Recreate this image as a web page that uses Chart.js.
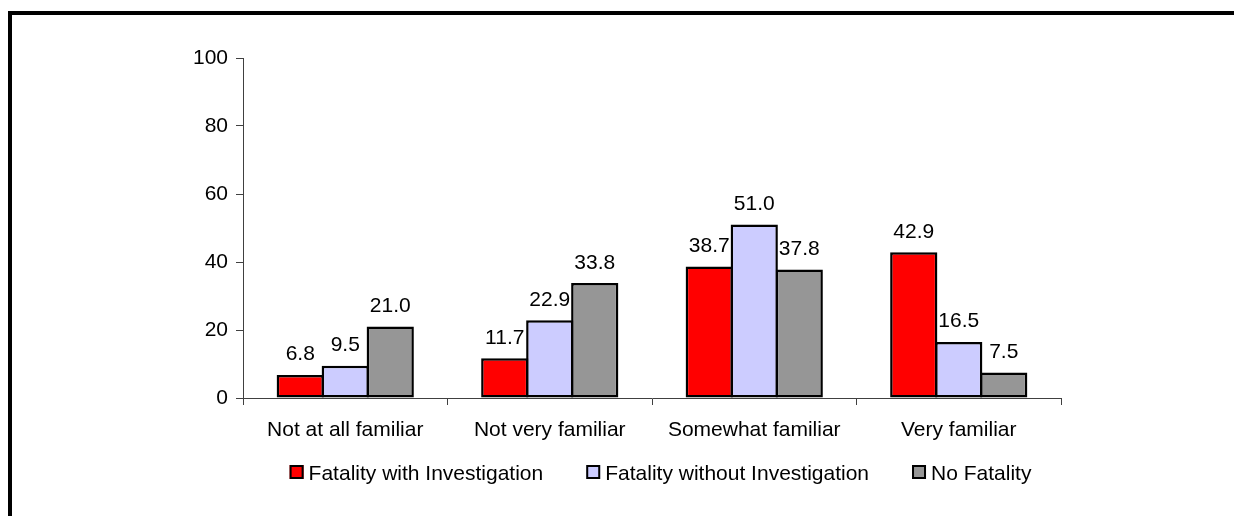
<!DOCTYPE html>
<html>
<head>
<meta charset="utf-8">
<script src="https://cdn.jsdelivr.net/npm/chart.js@4/dist/chart.umd.min.js"></script>
<style>
  html, body { margin: 0; padding: 0; background: #fff; }
  canvas { display: block; }
</style>
</head>
<body>
<canvas id="chart" width="1234" height="516"></canvas>
<script>
// Familiarity survey, percent of respondents per group
const categories = ['Not at all familiar', 'Not very familiar', 'Somewhat familiar', 'Very familiar'];
const seriesNames = ['Fatality with Investigation', 'Fatality without Investigation', 'No Fatality'];
const withInvestigation = [6.8, 11.7, 38.7, 42.9];
const withoutInvestigation = [9.5, 22.9, 51.0, 16.5];
const noFatality = [21.0, 33.8, 37.8, 7.5];
const yTicks = [0, 20, 40, 60, 80, 100];

const seriesColors = ['#FF0000', '#CCCCFF', '#969696'];
const FONT = '"Liberation Sans", Arial, sans-serif';
const FONT_SIZE = 21;
const AXIS_COLOR = '#404040';

// Thick black frame along the top and left edges
const framePlugin = {
  id: 'frame',
  beforeDraw(chart) {
    const ctx = chart.ctx;
    ctx.save();
    ctx.fillStyle = '#fff';
    ctx.fillRect(0, 0, chart.width, chart.height);
    ctx.fillStyle = '#000';
    ctx.fillRect(8, 11, chart.width - 8, 4);
    ctx.fillRect(8, 11, 4, chart.height - 11);
    ctx.restore();
  }
};

// Value printed above every bar
const valueLabelPlugin = {
  id: 'valueLabels',
  afterDatasetsDraw(chart) {
    const ctx = chart.ctx;
    ctx.save();
    ctx.font = FONT_SIZE + 'px ' + FONT;
    ctx.fillStyle = '#000';
    ctx.textAlign = 'center';
    ctx.textBaseline = 'alphabetic';
    chart.data.datasets.forEach((ds, di) => {
      chart.getDatasetMeta(di).data.forEach((bar, i) => {
        ctx.fillText(ds.data[i].toFixed(1), bar.x, bar.y - 14.5);
      });
    });
    ctx.restore();
  }
};

// Legend row under the category labels
const legendRowPlugin = {
  id: 'legendRow',
  afterDraw(chart) {
    const ctx = chart.ctx;
    const box = 14, textGap = 5, itemGap = 43;
    ctx.save();
    ctx.font = FONT_SIZE + 'px ' + FONT;
    const items = chart.data.datasets.map(ds => ({
      label: ds.label, color: ds.backgroundColor, w: ctx.measureText(ds.label).width
    }));
    const total = items.reduce((s, it) => s + box + textGap + it.w, 0) + itemGap * (items.length - 1);
    let x = 660.5 - total / 2;
    const boxTop = 465, baseline = 480;
    items.forEach(it => {
      ctx.fillStyle = it.color;
      ctx.fillRect(x, boxTop, box, box);
      ctx.strokeStyle = '#000';
      ctx.lineWidth = 2;
      ctx.strokeRect(x + 1, boxTop + 1, box - 2, box - 2);
      ctx.fillStyle = '#000';
      ctx.textAlign = 'left';
      ctx.textBaseline = 'alphabetic';
      ctx.fillText(it.label, x + box + textGap, baseline);
      x += box + textGap + it.w + itemGap;
    });
    ctx.restore();
  }
};

const seriesValues = [withInvestigation, withoutInvestigation, noFatality];

new Chart(document.getElementById('chart'), {
  type: 'bar',
  data: {
    labels: categories,
    datasets: seriesNames.map((name, i) => ({
      label: name,
      data: seriesValues[i],
      backgroundColor: seriesColors[i],
      borderColor: '#000',
      borderWidth: 2.5,
      borderSkipped: false,
      barPercentage: 1.05,
      categoryPercentage: 0.66
    }))
  },
  options: {
    responsive: false,
    animation: false,
    devicePixelRatio: 1,
    layout: { padding: { top: 58, right: 173, bottom: 0, left: 0 } },
    plugins: {
      legend: { display: false },
      tooltip: { enabled: false }
    },
    scales: {
      x: {
        offset: true,
        grid: {
          offset: true,
          drawOnChartArea: false,
          drawTicks: true,
          tickLength: 7,
          color: AXIS_COLOR
        },
        border: { display: true, color: AXIS_COLOR, width: 1 },
        ticks: {
          color: '#000',
          padding: 13,
          maxRotation: 0,
          font: { family: FONT, size: FONT_SIZE }
        },
        afterFit(scale) { scale.height = 516 - 398; }
      },
      y: {
        min: 0,
        max: 100,
        afterBuildTicks(scale) { scale.ticks = yTicks.map(v => ({ value: v })); },
        grid: {
          drawOnChartArea: false,
          drawTicks: true,
          tickLength: 7,
          color: AXIS_COLOR
        },
        border: { display: true, color: AXIS_COLOR, width: 1 },
        ticks: {
          color: '#000',
          padding: 8,
          font: { family: FONT, size: FONT_SIZE }
        },
        afterFit(scale) { scale.width = 243; }
      }
    }
  },
  plugins: [framePlugin, valueLabelPlugin, legendRowPlugin]
});
</script>
</body>
</html>
